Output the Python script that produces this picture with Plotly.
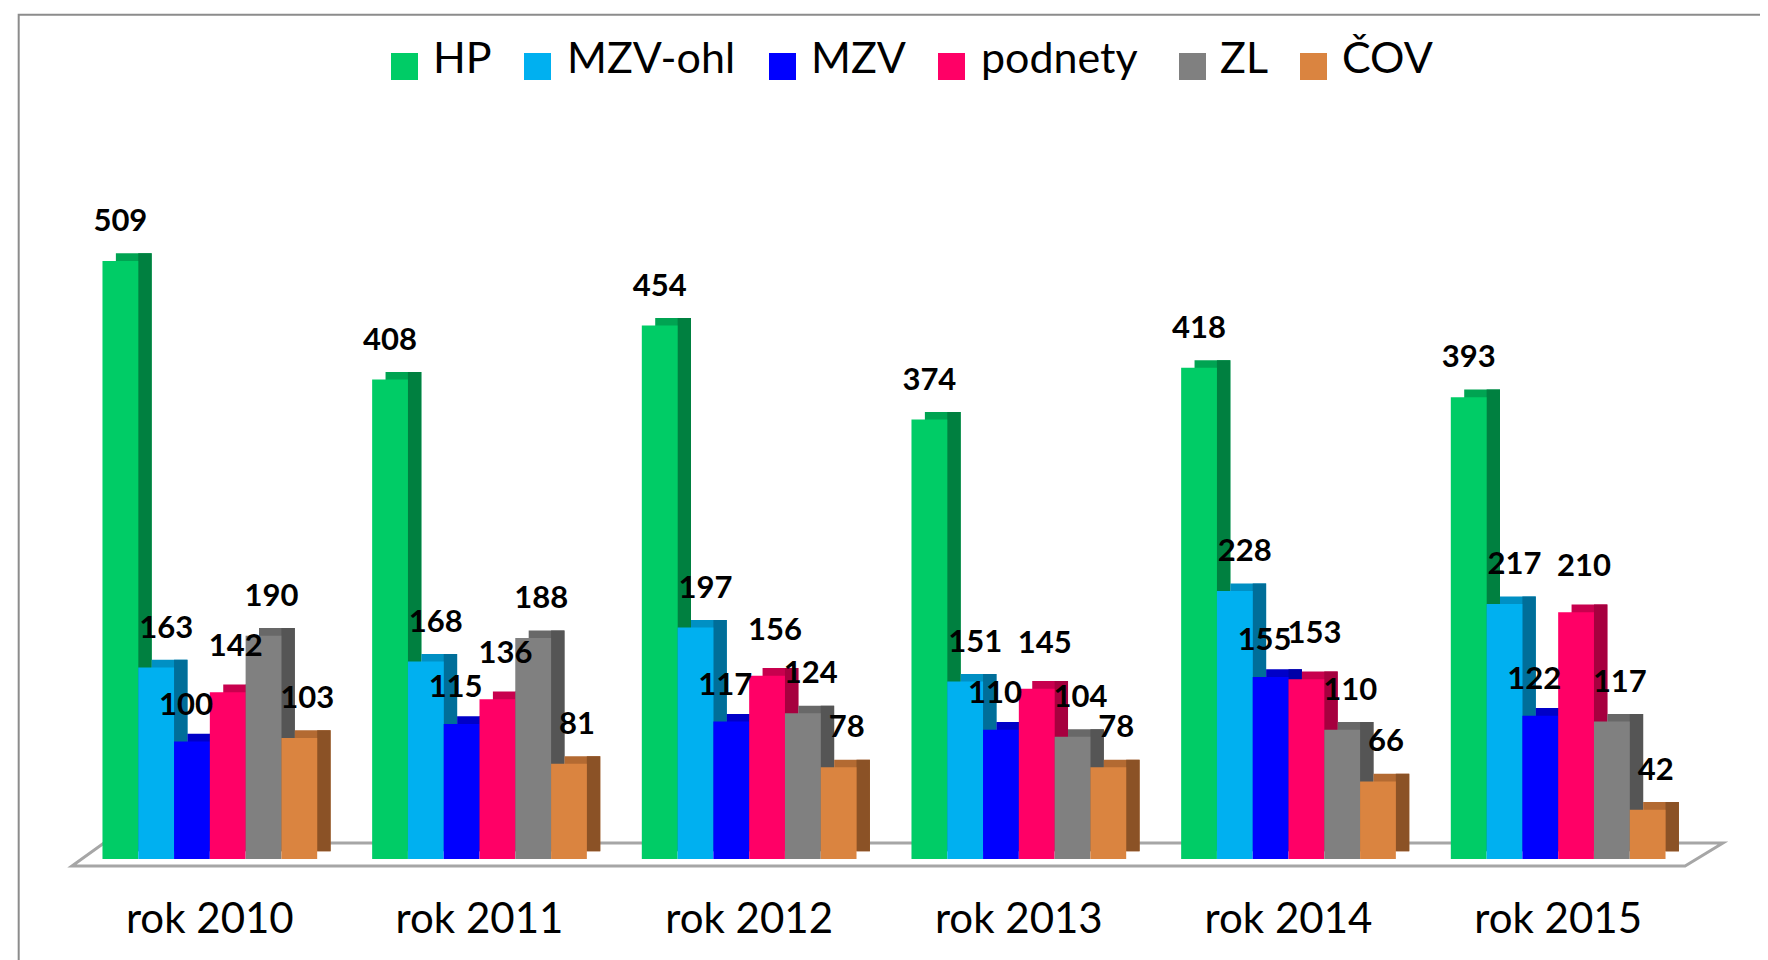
import plotly.graph_objects as go

years = ['rok 2010', 'rok 2011', 'rok 2012', 'rok 2013', 'rok 2014', 'rok 2015']
series_names = ['HP', 'MZV-ohl', 'MZV', 'podnety', 'ZL', 'ČOV']

hp = [509, 408, 454, 374, 418, 393]
mzv_ohl = [163, 168, 197, 151, 228, 217]
mzv = [100, 115, 117, 110, 155, 122]
podnety = [142, 136, 156, 145, 153, 210]
zl = [190, 188, 124, 104, 110, 117]
cov = [103, 81, 78, 78, 66, 42]

values = [hp, mzv_ohl, mzv, podnety, zl, cov]

front_colors = ['#00CC66', '#00B0F0', '#0000FF', '#FF0066', '#808080', '#DA8440']
top_colors = ['#00A452', '#0090C4', '#0000C8', '#C8004E', '#686868', '#B36A32']
side_colors = ['#008040', '#006E99', '#0000A8', '#A6003F', '#555555', '#8B5226']

FONT = 'Lato'

# page geometry (px)
L, R, T, B = 67, 83, 146, 109
PW = 1768 - L - R
PH = 960 - T - B

# bar geometry in category units (group spacing = 1)
w = 0.1327       # front face width
d = 0.0497       # depth of the fake 3D side
lift = 6.5       # height of the top face in data units
start = -3 * w

# per-series label nudges (px sideways, data units upwards), like Excel's placement
label_dx = [0, 10, -6, 8, 8, 8]
label_gap = [17, 17, 14, 22, 17, 17]

# legend: swatch left edges and text starts (px from left), swatch size
legend_px = [383, 516, 761, 930, 1171, 1292]
text_px = [425, 559, 803, 973, 1212, 1334]
SW = 27
SW_TOP = 45


def px_x(px):
    return (px - L) / PW


def px_y(py):
    return (960 - B - py) / PH


fig = go.Figure()

for i, (name, vals) in enumerate(zip(series_names, values)):
    off = start + i * w
    # top face (shifted back/up copy)
    fig.add_trace(go.Bar(
        x=years, y=vals, base=lift, offset=off + d, width=w,
        marker=dict(color=top_colors[i], line=dict(width=0)),
        showlegend=False, hoverinfo='skip'
    ))
    # side face
    fig.add_trace(go.Bar(
        x=years, y=vals, base=lift, offset=off + w, width=d,
        marker=dict(color=side_colors[i], line=dict(width=0)),
        showlegend=False, hoverinfo='skip'
    ))
    # front face
    fig.add_trace(go.Bar(
        x=years, y=vals, offset=off, width=w, name=name,
        marker=dict(color=front_colors[i], line=dict(width=0)),
        showlegend=False
    ))

# data labels on transparent bars so they sit on top of everything
for i, vals in enumerate(values):
    off = start + i * w + label_dx[i] / (PW / 6.0)
    fig.add_trace(go.Bar(
        x=years, y=[v + label_gap[i] for v in vals], offset=off, width=w,
        marker=dict(color='rgba(0,0,0,0)', line=dict(width=0)),
        text=[str(v) for v in vals], textposition='outside',
        textfont=dict(family=FONT, size=31, color='black', weight='bold'),
        constraintext='none', cliponaxis=False,
        showlegend=False, hoverinfo='skip'
    ))

# legend: one small legend per series for the text, big swatches drawn as shapes
legends = {}
for i, name in enumerate(series_names):
    key = 'legend' if i == 0 else 'legend%d' % (i + 1)
    fig.add_trace(go.Scatter(
        x=[None], y=[None], mode='markers', name=name,
        marker=dict(symbol='square', size=10, color='rgba(0,0,0,0)'),
        legend=key
    ))
    legends[key] = dict(
        x=px_x(text_px[i] - 40), xanchor='left',
        y=1.139, yanchor='middle', orientation='h',
        font=dict(family=FONT, size=43, color='black'),
        itemwidth=30, bgcolor='rgba(0,0,0,0)', borderwidth=0
    )
    fig.add_shape(type='rect', xref='paper', yref='paper',
                  x0=px_x(legend_px[i]), x1=px_x(legend_px[i] + SW),
                  y0=px_y(SW_TOP + SW), y1=px_y(SW_TOP),
                  fillcolor=front_colors[i], line=dict(width=0))

# floor of the 3D plot and outer chart border
floor = 'M -0.0019 -0.0099 L 0.9951 -0.0099 L 1.0185 0.0227 L 0.0179 0.0227 Z'
fig.add_shape(type='path', path=floor, xref='paper', yref='paper',
              line=dict(color='#A6A6A6', width=3), fillcolor='white', layer='below')
fig.add_shape(type='rect', xref='paper', yref='paper',
              x0=-0.0348, x1=1.07, y0=-0.2, y1=1.1976,
              line=dict(color='#8C8C8C', width=2), layer='below')

fig.update_layout(
    width=1768, height=960,
    barmode='overlay',
    paper_bgcolor='white', plot_bgcolor='white',
    margin=dict(l=L, r=R, t=T, b=B),
    font=dict(family=FONT, color='black'),
    showlegend=True,
    **legends
)
fig.update_xaxes(type='category', range=[-0.5, 5.5], showgrid=False, showline=False,
                 zeroline=False, ticks='', tickfont=dict(family=FONT, size=42, color='black'),
                 ticklabelstandoff=31)
fig.update_yaxes(range=[0, 600], visible=False, showgrid=False, zeroline=False)

fig.write_html('out.html')
